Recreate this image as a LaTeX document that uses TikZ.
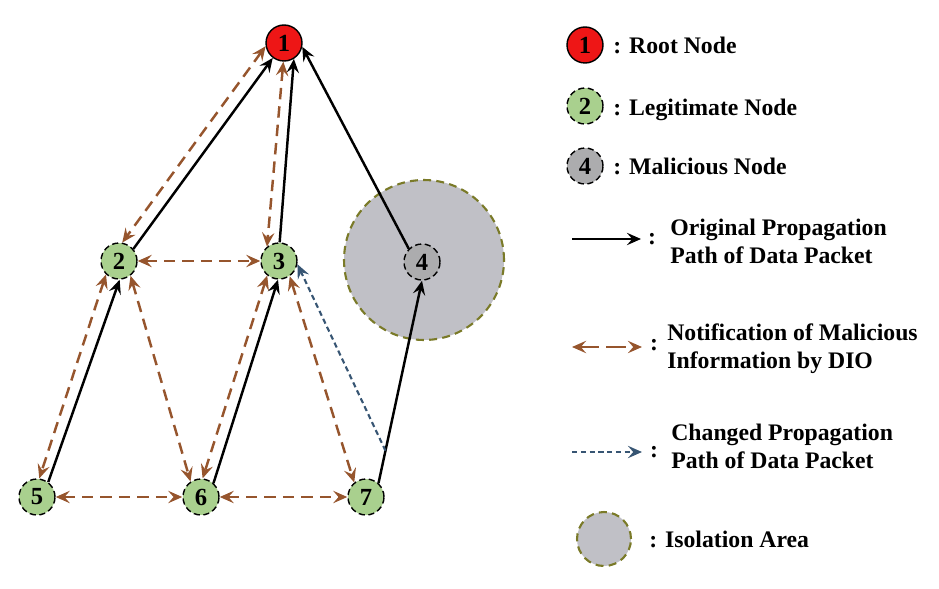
\documentclass[tikz,border=0pt]{standalone}
\usepackage{fontspec}
\setmainfont{Liberation Serif}
\usepackage{xcolor}
\usetikzlibrary{arrows.meta,calc}
\definecolor{rootred}{RGB}{238,22,22}
\definecolor{legitgreen}{RGB}{169,208,142}
\definecolor{malgray}{RGB}{172,172,174}
\definecolor{isogray}{RGB}{192,192,198}
\definecolor{isoolive}{RGB}{122,122,40}
\definecolor{diobrown}{RGB}{150,85,45}
\definecolor{pathblue}{RGB}{55,85,115}
\tikzset{%
	rootnode/.style  = {draw, circle, line width=0.8pt, fill=rootred, minimum size=0.72cm, inner sep=0pt, font=\bfseries\fontsize{14}{16}\selectfont},
	legitnode/.style = {draw, circle, line width=0.8pt, dash pattern=on 3.5pt off 2pt, fill=legitgreen, minimum size=0.72cm, inner sep=0pt, font=\bfseries\fontsize{14}{16}\selectfont},
	malnode/.style   = {draw, circle, line width=0.8pt, dash pattern=on 3.5pt off 2pt, fill=malgray, minimum size=0.72cm, inner sep=0pt, font=\bfseries\fontsize{14}{16}\selectfont},
	isoarea/.style   = {draw=isoolive, circle, dash pattern=on 4.5pt off 3pt, line width=1.2pt, fill=isogray, inner sep=0pt},
	legtext/.style   = {inner sep=0pt, align=left, font=\bfseries\fontsize{13.5}{15.9}\selectfont},
	datapath/.style  = {line width=1.4pt, -{Stealth[length=8pt,width=7pt,inset=3pt]}},
	notify/.style    = {line width=1.4pt, diobrown, dash pattern=on 6.5pt off 4pt, {Stealth[length=8pt,width=7pt,inset=3pt]}-{Stealth[length=8pt,width=7pt,inset=3pt]}},
	changed/.style   = {line width=1.2pt, pathblue, dash pattern=on 3pt off 2pt, -{Stealth[length=8pt,width=7pt,inset=3pt]}},
}

\begin{document}
\begin{tikzpicture}[x=0.02cm,y=-0.02cm]
	\useasboundingbox (0,0) rectangle (939,588);
	
	\node[isoarea, minimum size=3.2cm] (iso) at (424,260) {};
	
	\node[rootnode] (n1) at (284,43) {1};
	\node[legitnode] (n2) at (119,261) {2};
	\node[legitnode] (n3) at (279,261) {3};
	\node[malnode] (n4) at (422,262) {4};
	\node[legitnode] (n5) at (37,497) {5};
	\node[legitnode] (n6) at (201,497) {6};
	\node[legitnode] (n7) at (366,497) {7};
	
	% original path of data packet
	\draw[datapath] (n2.40) -- (n1.233);
	\draw[datapath] (n3.88) -- (n1.-58);
	\draw[datapath] (n4.135) -- (n1.-12);
	\draw[datapath] (n5.53) -- (n2.-88);
	\draw[datapath] (n6.48) -- (n3.-93);
	\draw[datapath] (n7.48) -- (n4.-90);
	
	% DIO notification
	\draw[notify] (n1.190) -- (n2.80);
	\draw[notify] (n1.-92) -- (n3.130);
	\draw[notify] (n2.east) -- (n3.west);
	\draw[notify] (n2.-134) -- (n5.83);
	\draw[notify] (n2.-52) -- (n6.124);
	\draw[notify] (n3.-129) -- (n6.85);
	\draw[notify] (n3.-55) -- (n7.129);
	\draw[notify] (n5.east) -- (n6.west);
	\draw[notify] (n6.east) -- (n7.west);
	
	\coordinate (b7) at ($(n7.48)!0.16!(n4.-90)$);
	\draw[changed] (b7) -- (n3.-10);
	
	% legend
	\node[rootnode] (lroot) at (585,45) {1};
	\node[legtext, anchor=base west] (troot) at (613,54) {: Root Node};
	\node[legitnode] (llegit) at (585,106) {2};
	\node[legtext, anchor=base west] (tlegit) at (613,115) {: Legitimate Node};
	\node[malnode] (lmal) at (585,166) {4};
	\node[legtext, anchor=base west] (tmal) at (613,174) {: Malicious Node};
	
	\coordinate (lp1) at (572,239);
	\coordinate (lp2) at (641,239);
	\draw[datapath] (lp1) -- (lp2);
	\node[legtext] (cpath) at (652,239) {:};
	\node[legtext, anchor=west] (tpath) at (670,241) {Original Propagation\\Path of Data Packet};
	
	\coordinate (ld1) at (572,347);
	\coordinate (ld2) at (642,347);
	\draw[notify, dash pattern=on 11pt off 4pt] (ld1) -- (ld2);
	\node[legtext] (cdio) at (654,345) {:};
	\node[legtext, anchor=west] (tdio) at (667,349) {Notification of Malicious\\Information by DIO};
	
	\coordinate (lc1) at (572,452);
	\coordinate (lc2) at (642,452);
	\draw[changed] (lc1) -- (lc2);
	\node[legtext] (cchg) at (654,452) {:};
	\node[legtext, anchor=west] (tchg) at (671,446) {Changed Propagation\\Path of Data Packet};
	
	\node[isoarea, minimum size=1.08cm] (liso) at (604,539) {};
	\node[legtext, anchor=base west] (tiso) at (649,547) {: Isolation Area};
\end{tikzpicture}
\end{document}
